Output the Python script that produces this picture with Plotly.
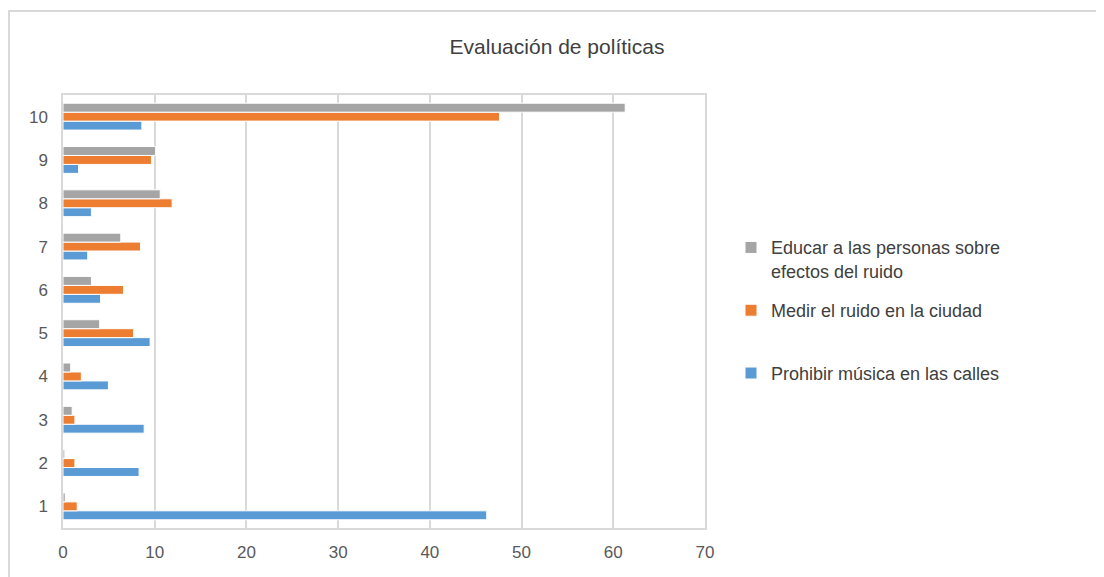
import plotly.graph_objects as go

categories = ["1", "2", "3", "4", "5", "6", "7", "8", "9", "10"]
prohibir = [46.2, 8.3, 8.85, 4.95, 9.5, 4.1, 2.7, 3.1, 1.7, 8.6]
medir = [1.55, 1.3, 1.3, 2.0, 7.7, 6.6, 8.45, 11.9, 9.65, 47.6]
educar = [0.25, 0.2, 1.0, 0.84, 4.0, 3.1, 6.3, 10.6, 10.1, 61.3]
x_ticks = [0, 10, 20, 30, 40, 50, 60, 70]

series = [
    ("Prohibir música en las calles<br>&nbsp;", prohibir, "#5B9BD5", 3),
    ("Medir el ruido en la ciudad<br>&nbsp;", medir, "#ED7D31", 2),
    ("Educar a las personas sobre<br>efectos del ruido", educar, "#A5A5A5", 1),
]

FONT = "Liberation Sans, Arial, sans-serif"

W, H = 1096, 569
L, R, T, B = 55, 399, 87, 49
PW, PH = W - L - R, H - T - B

fig = go.Figure()
for name, vals, color, rank in series:
    fig.add_trace(go.Bar(
        y=categories, x=vals, orientation="h", name=name,
        marker=dict(color=color, line=dict(color="white", width=1)),
        legendgroup=str(rank), legendrank=rank,
    ))

fig.update_layout(
    width=W, height=H,
    margin=dict(l=L, r=R, t=T, b=B),
    paper_bgcolor="white", plot_bgcolor="white",
    barmode="group", bargap=0.38, bargroupgap=0.0,
    title=dict(text="Evaluación de políticas", x=(557 - 8) / W, xanchor="center",
               y=1 - 39 / H, yanchor="middle",
               font=dict(family=FONT, size=21, color="#404040")),
    font=dict(family=FONT, color="#595959"),
    legend=dict(x=(731 - 8 - L) / PW, y=0.69, xanchor="left", yanchor="top",
                traceorder="grouped", tracegroupgap=13, valign="top",
                itemwidth=30,
                font=dict(family=FONT, size=18, color="#404040")),
    xaxis=dict(range=[0, 70], tickvals=x_ticks, showgrid=True,
               gridcolor="#d9d9d9", gridwidth=1.5, zeroline=False,
               showline=True, linecolor="#d9d9d9", linewidth=1.5, mirror=True,
               ticks="", tickfont=dict(size=17, color="#595959"), ticklabelstandoff=8),
    yaxis=dict(categoryorder="array", categoryarray=categories,
               showgrid=False, zeroline=False,
               showline=True, linecolor="#d9d9d9", linewidth=1.5, mirror=True,
               ticks="", tickfont=dict(size=17, color="#595959"), ticklabelstandoff=10),
    shapes=[dict(type="rect", xref="paper", yref="paper",
                 x0=(1 - L) / PW, x1=(1130 - 8 - L) / PW,
                 y0=-0.3, y1=(PH + T - (11 - 8)) / PH,
                 line=dict(color="#d9d9d9", width=2), layer="below")],
)

fig.write_html("out.html")
